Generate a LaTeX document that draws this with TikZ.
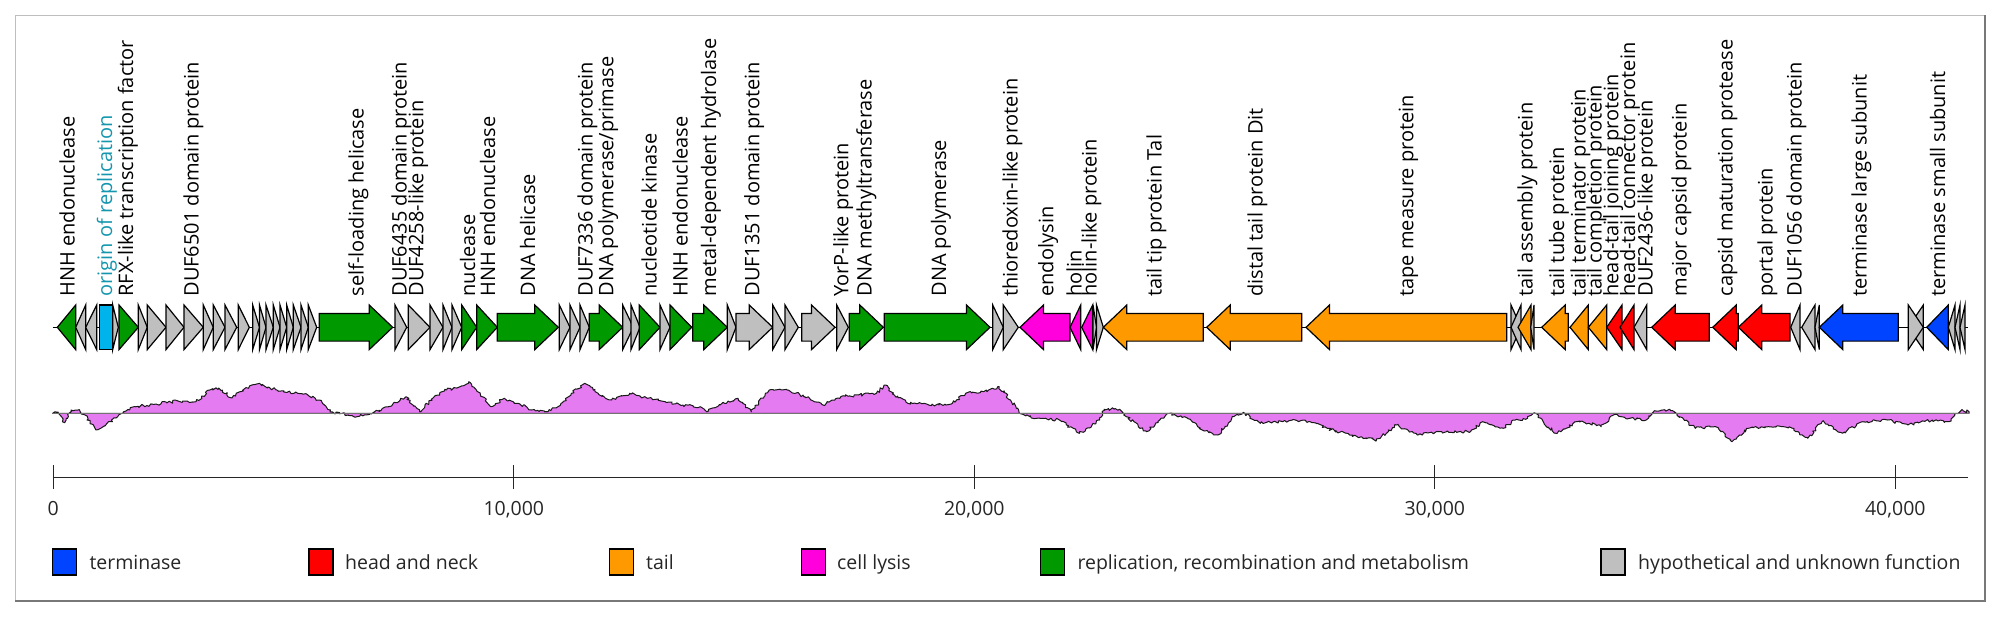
\documentclass[tikz,border=0pt]{standalone}
\usepackage{fontspec}
\setmainfont{Open Sans}
\usetikzlibrary{decorations.pathmorphing}
\definecolor{gGreen}{RGB}{0,153,0}
\definecolor{gGray}{RGB}{191,191,191}
\definecolor{gBlue}{RGB}{0,68,255}
\definecolor{gRed}{RGB}{255,0,0}
\definecolor{gOrange}{RGB}{255,153,0}
\definecolor{gMag}{RGB}{255,0,220}
\definecolor{gCyan}{RGB}{0,180,235}
\definecolor{tealtxt}{RGB}{20,150,175}
\definecolor{gcfill}{RGB}{229,123,240}
\definecolor{frameLight}{RGB}{190,190,190}
\definecolor{frameDark}{RGB}{120,120,120}
\newcommand{\txtfont}{\fontsize{19.5}{23}\selectfont}
\newcommand{\lblfont}{\fontsize{20}{23}\selectfont}
\tikzset{
  genebox/.style={draw=black, line width=1.2pt, line join=miter},
  lbl/.style={rotate=90, anchor=base west, inner sep=0pt, font=\lblfont, text=black},
  axlbl/.style={anchor=base, inner sep=0pt, font=\txtfont, text=black!85},
  leglbl/.style={anchor=base west, inner sep=0pt, font=\txtfont, text=black!85},
  legbox/.style={draw=black, line width=1.2pt},
  gcline/.style={draw=black!90, line width=1pt, line join=round},
  jag/.style={decoration={random steps, segment length=2pt, amplitude=1.5pt}},
}
\newcommand{\genF}[3]{%
  \pgfmathtruncatemacro{\isLong}{((#2)-(#1))>23.5 ? 1 : 0}%
  \ifnum\isLong=1
    \pgfmathsetmacro{\hsA}{#2-23.5}%
    \draw[genebox,fill=#3] (#1,313.5) -- (\hsA,313.5) -- (\hsA,305) -- (#2,327.3) -- (\hsA,349.6) -- (\hsA,341.1) -- (#1,341.1) -- cycle;
  \else
    \draw[genebox,fill=#3] (#1,305) -- (#2,327.3) -- (#1,349.6) -- cycle;
  \fi}
\newcommand{\genR}[3]{%
  \pgfmathtruncatemacro{\isLong}{((#2)-(#1))>23.5 ? 1 : 0}%
  \ifnum\isLong=1
    \pgfmathsetmacro{\hsB}{#1+23.5}%
    \draw[genebox,fill=#3] (#2,313.5) -- (\hsB,313.5) -- (\hsB,305) -- (#1,327.3) -- (\hsB,349.6) -- (\hsB,341.1) -- (#2,341.1) -- cycle;
  \else
    \draw[genebox,fill=#3] (#2,305) -- (#1,327.3) -- (#2,349.6) -- cycle;
  \fi}
\begin{document}
\begin{tikzpicture}[x=1pt,y=-1pt]
\useasboundingbox (0,0) rectangle (2001,616);
\fill[white] (0,0) rectangle (2001,616);
% frame
\draw[frameLight, line width=1.2pt] (15.3,600.7) -- (15.3,15.3) -- (1985,15.3);
\draw[frameDark, line width=2pt] (1985,15.3) -- (1985,600.7) -- (15.3,600.7);

% backbone
\draw[black, line width=1.2pt] (52.7,327.3) -- (1968.3,327.3);

% genes
\genR{57.3}{75.7}{gGreen}
\genR{75.7}{85.7}{gGray}
\genR{85.7}{96.7}{gGray}
\draw[genebox, fill=gCyan] (99.3,305) rectangle (112.7,349.6);
\genF{112.7}{118.3}{gGray}
\genF{119}{138.3}{gGreen}
\genF{138.3}{147.3}{gGray}
\genF{147.3}{166}{gGray}
\genF{166}{184}{gGray}
\genF{184}{203.3}{gGray}
\genF{203.3}{213.3}{gGray}
\genF{213.3}{225}{gGray}
\genF{225}{236.7}{gGray}
\genF{238.3}{249.3}{gGray}
\genF{252.7}{259.5}{gGray}
\genF{259.5}{266}{gGray}
\genF{266}{273.3}{gGray}
\genF{273.3}{280}{gGray}
\genF{280}{286.7}{gGray}
\genF{286.7}{293.3}{gGray}
\genF{293.3}{301}{gGray}
\genF{301}{308.3}{gGray}
\genF{308.3}{316.7}{gGray}
\genF{319.3}{392.7}{gGreen}
\genF{395}{406.7}{gGray}
\genF{408.3}{430}{gGray}
\genF{430}{443}{gGray}
\genF{443}{452}{gGray}
\genF{452}{461.7}{gGray}
\genF{461.7}{476.7}{gGreen}
\genF{476.7}{497.3}{gGreen}
\genF{497.3}{558.3}{gGreen}
\genF{559.3}{570}{gGray}
\genF{570}{580}{gGray}
\genF{580}{589.3}{gGray}
\genF{589.3}{622.7}{gGreen}
\genF{622.7}{633.3}{gGray}
\genF{631}{640}{gGray}
\genF{639.3}{660}{gGreen}
\genF{660}{670}{gGray}
\genF{670}{691.7}{gGreen}
\genF{692.7}{727.3}{gGreen}
\genF{727.3}{736}{gGray}
\genF{736}{772.7}{gGray}
\genF{772.7}{785}{gGray}
\genF{785}{798.3}{gGray}
\genF{801.7}{835}{gGray}
\genF{836.7}{848.3}{gGray}
\genF{849.3}{883.3}{gGreen}
\genF{884.3}{990}{gGreen}
\genF{992.7}{1003.3}{gGray}
\genF{1003.3}{1018.3}{gGray}
\genR{1020}{1070}{gMag}
\genR{1070}{1080.7}{gMag}
\genR{1081.7}{1092.7}{gMag}
\genF{1093}{1096.5}{gGray}
\genF{1096.5}{1103.3}{gGray}
\genR{1103.3}{1203.3}{gOrange}
\genR{1206.7}{1301.7}{gOrange}
\genR{1306}{1506.7}{gOrange}
\genF{1511}{1521}{gGray}
\genR{1511}{1521}{gGray}
\genR{1518}{1531}{gOrange}
\genR{1530.7}{1534}{gGray}
\genR{1541.7}{1568.3}{gOrange}
\genR{1570}{1588.3}{gOrange}
\genR{1588.3}{1606.7}{gOrange}
\genR{1606.7}{1622}{gRed}
\genR{1620}{1634}{gRed}
\genR{1634}{1646.7}{gGray}
\genR{1651.7}{1709.3}{gRed}
\genR{1712.7}{1738.3}{gRed}
\genR{1738.3}{1790}{gRed}
\genR{1790.7}{1800}{gGray}
\genR{1801.7}{1815}{gGray}
\genR{1815}{1819.3}{gGray}
\genR{1819.3}{1898.3}{gBlue}
\genR{1908.3}{1923.3}{gGray}
\genF{1908.3}{1923.3}{gGray}
\genR{1926.7}{1948.3}{gBlue}
\genR{1948.3}{1955}{gGray}
\genR{1955}{1960}{gGray}
\genR{1960}{1965}{gGray}

% labels
\node[lbl] (l1) at (74.7,296.7) {HNH endonuclease};
\node[lbl, text=tealtxt] (l2) at (112,296.7) {origin of replication};
\node[lbl] (l3) at (133,296.7) {RFX-like transcription factor};
\node[lbl] (l4) at (198.5,296.7) {DUF6501 domain protein};
\node[lbl] (l5) at (363.5,296.7) {self-loading helicase};
\node[lbl] (l6) at (406.7,296.7) {DUF6435 domain protein};
\node[lbl] (l7) at (423.3,296.7) {DUF4258-like protein};
\node[lbl] (l8) at (475,296.7) {nuclease};
\node[lbl] (l9) at (495,296.7) {HNH endonuclease};
\node[lbl] (l10) at (535,296.7) {DNA helicase};
\node[lbl] (l11) at (592.7,296.7) {DUF7336 domain protein};
\node[lbl] (l12) at (613.3,296.7) {DNA polymerase/primase};
\node[lbl] (l13) at (656.7,296.7) {nucleotide kinase};
\node[lbl] (l14) at (687.7,296.7) {HNH endonuclease};
\node[lbl] (l15) at (716,296.7) {metal-dependent hydrolase};
\node[lbl] (l16) at (759.3,296.7) {DUF1351 domain protein};
\node[lbl] (l17) at (848.3,296.7) {YorP-like protein};
\node[lbl] (l18) at (871.7,296.7) {DNA methyltransferase};
\node[lbl] (l19) at (946,296.7) {DNA polymerase};
\node[lbl] (l20) at (1017.7,296.7) {thioredoxin-like protein};
\node[lbl] (l21) at (1053.3,296.7) {endolysin};
\node[lbl] (l22) at (1081.7,296.7) {holin};
\node[lbl] (l23) at (1096.7,296.7) {holin-like protein};
\node[lbl] (l24) at (1161.7,296.7) {tail tip protein Tal};
\node[lbl] (l25) at (1262.7,296.7) {distal tail protein Dit};
\node[lbl] (l26) at (1413.3,296.7) {tape measure protein};
\node[lbl] (l27) at (1532.7,296.7) {tail assembly protein};
\node[lbl] (l28) at (1564,296.7) {tail tube protein};
\node[lbl] (l29) at (1585.7,296.7) {tail terminator protein};
\node[lbl] (l30) at (1601.7,296.7) {tail completion protein};
\node[lbl] (l31) at (1618.3,296.7) {head-tail joining protein};
\node[lbl] (l32) at (1635,296.7) {head-tail connector protein};
\node[lbl] (l33) at (1652.7,296.7) {DUF2436-like protein};
\node[lbl] (l34) at (1686.7,296.7) {major capsid protein};
\node[lbl] (l35) at (1732.7,296.7) {capsid maturation protease};
\node[lbl] (l36) at (1772.7,296.7) {portal protein};
\node[lbl] (l37) at (1801.7,296.7) {DUF1056 domain protein};
\node[lbl] (l38) at (1866.7,296.7) {terminase large subunit};
\node[lbl] (l39) at (1945,296.7) {terminase small subunit};

% GC skew
\pgfmathsetseed{4242}
\draw[gcline, fill=gcfill] decorate[jag] {(52.7,413.3) -- (58,412) -- (64.7,422.7) -- (71,410) -- (78,410) -- (85,415) -- (96,430) -- (105,426) -- (116,418) -- (122.8,413.3) -- (134,406.7) -- (156,404) -- (178,401) -- (196,401.7) -- (209.8,390) -- (218.8,388) -- (232,398) -- (245.5,388) -- (256.7,384) -- (268,387) -- (277,390) -- (294.6,393) -- (308,395) -- (319,400) -- (330,411.7) -- (339,413.3) -- (357,416.7) -- (370.5,413.3) -- (388.4,406.7) -- (406,396.7) -- (419.6,411.7) -- (433,398) -- (446.4,390) -- (460,386.7) -- (468.75,381.7) -- (477.7,391.7) -- (491,406.7) -- (504.5,398.3) -- (517.9,403.3) -- (531.25,410) -- (544.6,411.7) -- (558,406.7) -- (571.4,393.3) -- (584.8,383.3) -- (598.2,393.3) -- (611.6,400) -- (629.5,393.3) -- (647.3,398.3) -- (665.2,401.7) -- (683,405) -- (700,406.7) -- (706.8,411.7) -- (724.6,403.3) -- (738,398.3) -- (751.4,411.7) -- (769.3,390) -- (787.1,390) -- (805,396.7) -- (822.9,405) -- (840.7,396.7) -- (858.6,395) -- (876.4,393.3) -- (885.4,385) -- (894.3,395) -- (907.7,403.3) -- (921.1,403.3) -- (938.9,405) -- (952.3,403.3) -- (965.7,393.3) -- (983.6,391.7) -- (999.2,386.7) -- (1010.4,400) -- (1019.3,413.3) -- (1037.1,418.3) -- (1059.5,420) -- (1079.5,433.3) -- (1099.6,420) -- (1104.1,409.3) -- (1119.7,409.3) -- (1126.4,416.7) -- (1146.5,431.7) -- (1168.8,413.3) -- (1184.5,416.7) -- (1202.3,430) -- (1217.9,435) -- (1233.6,416.7) -- (1244.7,413.3) -- (1260.3,423.3) -- (1282.7,421.7) -- (1305,420) -- (1327.3,428.3) -- (1349.6,435) -- (1376.4,440) -- (1396.8,425) -- (1417.2,435) -- (1441.8,431.7) -- (1470.4,431.7) -- (1482.6,421.7) -- (1503.1,428.3) -- (1515.3,420) -- (1527.6,418.3) -- (1535.8,413.3) -- (1544,423.3) -- (1556.2,433.3) -- (1576.7,421.7) -- (1589,423.3) -- (1601.2,426.7) -- (1613.5,415) -- (1629.8,418.3) -- (1646.2,420) -- (1654.4,410.7) -- (1670.7,410.7) -- (1676.9,415) -- (1695.3,428.3) -- (1715.7,426.7) -- (1732,441.7) -- (1748.4,428.3) -- (1768.8,426.7) -- (1789.3,426.7) -- (1807.7,438.3) -- (1822,421.7) -- (1842.4,433.3) -- (1862.9,421.7) -- (1887.4,420) -- (1907.8,425) -- (1932.4,420) -- (1948.7,421.7) -- (1957,413.3) -- (1962,409.5) -- (1969,411.7)} -- (1969,413.3) -- cycle;
\draw[black!55, line width=1.6pt] (52.7,413.3) -- (1969,413.3);

% axis
\draw[black!85, line width=1.3pt] (53.3,477.7) -- (1968.3,477.7);
\foreach \k/\t in {0/0, 1/{10,000}, 2/{20,000}, 3/{30,000}, 4/{40,000}} {
  \pgfmathsetmacro{\tx}{53.3+460.5*\k}
  \draw[black!85, line width=1.3pt] (\tx,465) -- (\tx,489);
  \node[axlbl] (tick\k) at (\tx,515) {\t};
}

% legend
\draw[legbox, fill=gBlue] (52.7,549) rectangle (76.8,575);
\node[leglbl] (lg1) at (89.3,569) {terminase};
\draw[legbox, fill=gRed] (309,549) rectangle (333,575);
\node[leglbl] (lg2) at (345,569) {head and neck};
\draw[legbox, fill=gOrange] (609.4,549) rectangle (633.4,575);
\node[leglbl] (lg3) at (646,569) {tail};
\draw[legbox, fill=gMag] (801.4,549) rectangle (825.4,575);
\node[leglbl] (lg4) at (837,569) {cell lysis};
\draw[legbox, fill=gGreen] (1040.7,549) rectangle (1064.8,575);
\node[leglbl] (lg5) at (1077.3,569) {replication, recombination and metabolism};
\draw[legbox, fill=gGray] (1601,549) rectangle (1625,575);
\node[leglbl] (lg6) at (1638,569) {hypothetical and unknown function};
\end{tikzpicture}
\end{document}
